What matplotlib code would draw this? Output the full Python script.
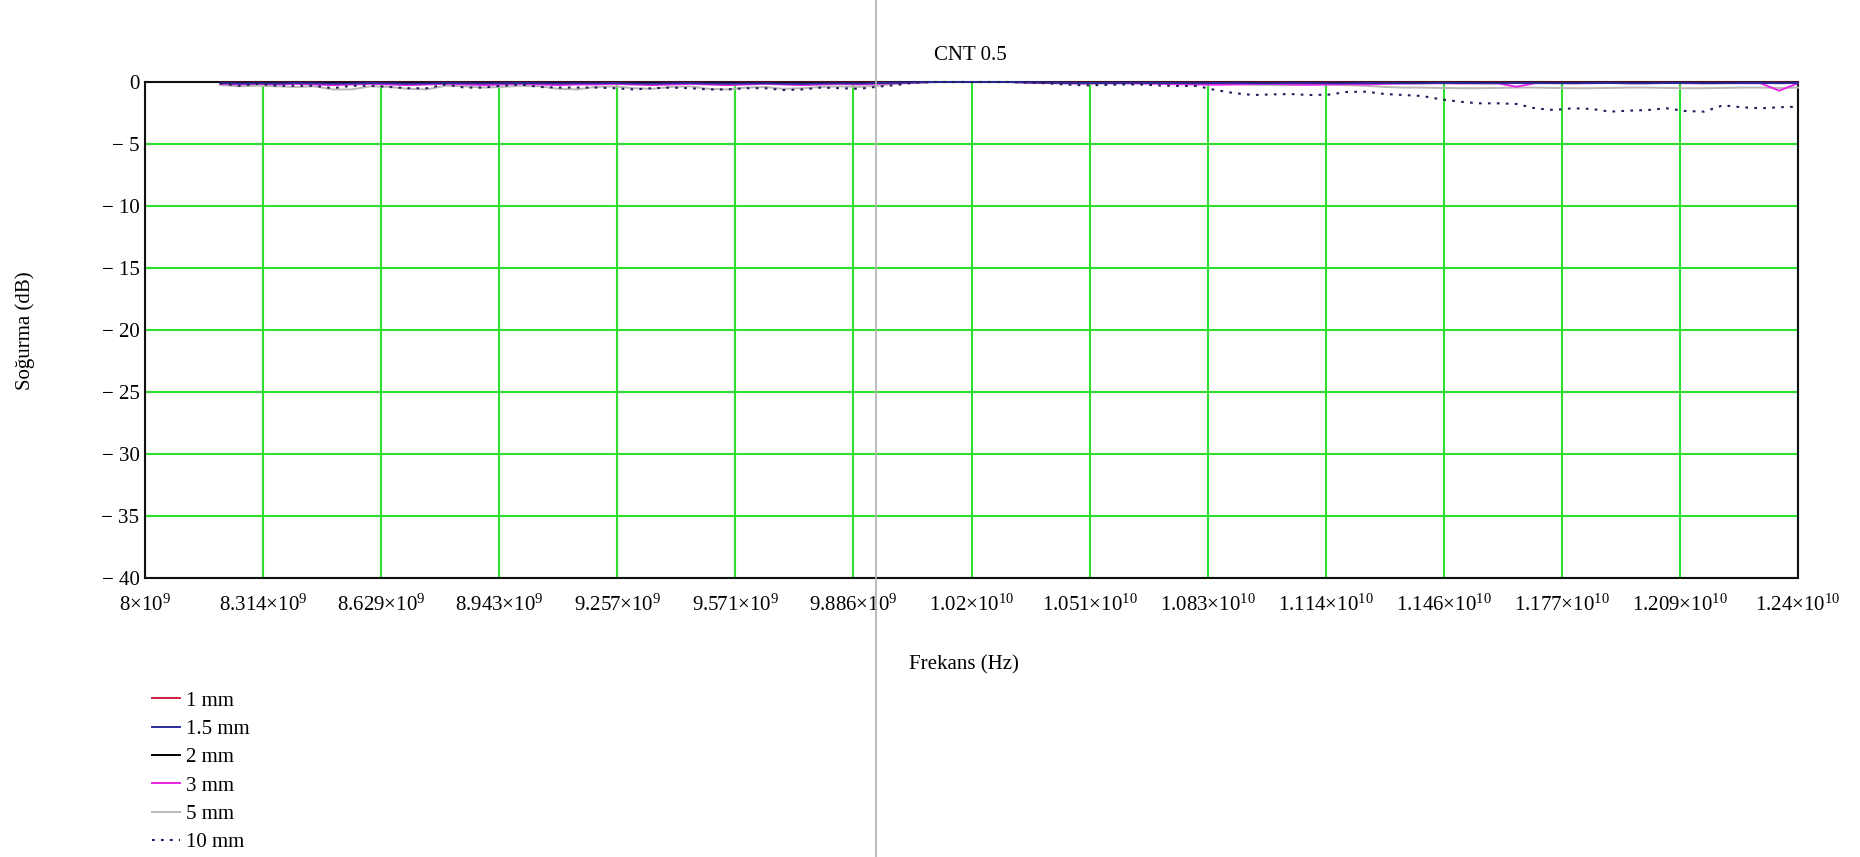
import matplotlib
matplotlib.use('Agg')
import matplotlib.pyplot as plt
import numpy as np
from matplotlib.lines import Line2D

plt.rcParams['font.family'] = ['Liberation Serif', 'DejaVu Serif']
plt.rcParams['mathtext.fontset'] = 'custom'
plt.rcParams['mathtext.rm'] = 'Liberation Serif'
plt.rcParams['mathtext.it'] = 'Liberation Serif:italic'
plt.rcParams['mathtext.bf'] = 'Liberation Serif:bold'

# ---------------- data ----------------
freq_ghz = [8.20, 8.25, 8.30, 8.35, 8.40, 8.45, 8.50, 8.55, 8.60, 8.65,
            8.70, 8.75, 8.80, 8.85, 8.90, 8.95, 9.00, 9.05, 9.10, 9.15,
            9.20, 9.25, 9.30, 9.35, 9.40, 9.45, 9.50, 9.55, 9.60, 9.65,
            9.70, 9.75, 9.80, 9.85, 9.90, 9.95, 10.00, 10.05, 10.10, 10.15,
            10.20, 10.25, 10.30, 10.35, 10.40, 10.45, 10.50, 10.55, 10.60, 10.65,
            10.70, 10.75, 10.80, 10.85, 10.90, 10.95, 11.00, 11.05, 11.10, 11.15,
            11.20, 11.25, 11.30, 11.35, 11.40, 11.45, 11.50, 11.55, 11.60, 11.65,
            11.70, 11.75, 11.80, 11.85, 11.90, 11.95, 12.00, 12.05, 12.10, 12.15,
            12.20, 12.25, 12.30, 12.35, 12.40]

mm1 = [-0.03, -0.05, -0.04, -0.05, -0.03, -0.04, -0.06, -0.05, -0.03, -0.04,
       -0.06, -0.05, -0.03, -0.04, -0.05, -0.04, -0.03, -0.04, -0.05, -0.04,
       -0.04, -0.03, -0.05, -0.06, -0.04, -0.03, -0.05, -0.06, -0.04, -0.03,
       -0.05, -0.06, -0.04, -0.03, -0.04, -0.03, -0.02, -0.01, 0.00, 0.00,
       0.00, 0.00, 0.00, -0.01, -0.02, -0.02, -0.03, -0.03, -0.02, -0.02,
       -0.03, -0.03, -0.03, -0.02, -0.03, -0.03, -0.02, -0.03, -0.03, -0.02,
       -0.03, -0.03, -0.02, -0.03, -0.03, -0.02, -0.03, -0.03, -0.02, -0.03,
       -0.03, -0.02, -0.03, -0.03, -0.02, -0.03, -0.03, -0.02, -0.03, -0.03,
       -0.02, -0.03, -0.03, -0.02, -0.03]

mm15 = [-0.08, -0.12, -0.10, -0.12, -0.08, -0.10, -0.14, -0.12, -0.08, -0.10,
        -0.14, -0.12, -0.08, -0.10, -0.12, -0.10, -0.08, -0.10, -0.12, -0.10,
        -0.10, -0.08, -0.12, -0.14, -0.10, -0.08, -0.12, -0.14, -0.12, -0.10,
        -0.14, -0.15, -0.12, -0.10, -0.12, -0.08, -0.05, -0.02, 0.00, 0.00,
        0.00, 0.00, 0.00, -0.02, -0.04, -0.06, -0.08, -0.08, -0.06, -0.06,
        -0.08, -0.08, -0.10, -0.08, -0.08, -0.10, -0.10, -0.08, -0.08, -0.10,
        -0.10, -0.08, -0.08, -0.10, -0.10, -0.08, -0.08, -0.10, -0.10, -0.08,
        -0.08, -0.10, -0.10, -0.08, -0.08, -0.10, -0.10, -0.08, -0.08, -0.10,
        -0.10, -0.08, -0.08, -0.10, -0.08]

mm2 = [-0.04, -0.06, -0.05, -0.06, -0.04, -0.05, -0.08, -0.06, -0.04, -0.05,
       -0.08, -0.06, -0.04, -0.05, -0.06, -0.05, -0.04, -0.05, -0.06, -0.05,
       -0.05, -0.04, -0.06, -0.08, -0.05, -0.04, -0.06, -0.08, -0.06, -0.05,
       -0.08, -0.09, -0.06, -0.05, -0.06, -0.04, -0.02, -0.01, 0.00, 0.00,
       0.00, 0.00, 0.00, -0.01, -0.02, -0.03, -0.04, -0.04, -0.03, -0.03,
       -0.04, -0.04, -0.05, -0.04, -0.04, -0.05, -0.05, -0.04, -0.04, -0.05,
       -0.05, -0.04, -0.04, -0.05, -0.05, -0.04, -0.04, -0.05, -0.05, -0.04,
       -0.04, -0.05, -0.05, -0.04, -0.04, -0.05, -0.05, -0.04, -0.04, -0.05,
       -0.05, -0.04, -0.04, -0.05, -0.04]

mm3 = [-0.15, -0.20, -0.15, -0.20, -0.15, -0.20, -0.25, -0.20, -0.15, -0.20,
       -0.25, -0.20, -0.15, -0.20, -0.25, -0.20, -0.15, -0.20, -0.25, -0.20,
       -0.20, -0.15, -0.20, -0.25, -0.20, -0.15, -0.20, -0.25, -0.20, -0.15,
       -0.20, -0.25, -0.20, -0.15, -0.20, -0.15, -0.10, -0.05, 0.00, 0.00,
       0.00, 0.00, 0.00, -0.05, -0.08, -0.10, -0.12, -0.10, -0.10, -0.12,
       -0.15, -0.18, -0.20, -0.22, -0.20, -0.18, -0.15, -0.20, -0.22, -0.20,
       -0.18, -0.20, -0.15, -0.12, -0.10, -0.10, -0.12, -0.10, -0.10, -0.38,
       -0.10, -0.08, -0.10, -0.10, -0.08, -0.10, -0.10, -0.08, -0.10, -0.10,
       -0.08, -0.10, -0.10, -0.70, -0.10]

mm5 = [-0.25, -0.35, -0.30, -0.35, -0.40, -0.35, -0.60, -0.60, -0.35, -0.40,
       -0.55, -0.60, -0.30, -0.35, -0.45, -0.40, -0.30, -0.35, -0.55, -0.60,
       -0.40, -0.35, -0.50, -0.55, -0.40, -0.35, -0.55, -0.60, -0.45, -0.40,
       -0.55, -0.50, -0.40, -0.35, -0.40, -0.30, -0.15, -0.05, 0.00, 0.00,
       0.00, 0.00, 0.00, -0.05, -0.08, -0.12, -0.15, -0.12, -0.10, -0.08,
       -0.10, -0.12, -0.10, -0.10, -0.15, -0.20, -0.25, -0.25, -0.22, -0.20,
       -0.25, -0.30, -0.40, -0.45, -0.45, -0.48, -0.50, -0.50, -0.48, -0.45,
       -0.45, -0.48, -0.50, -0.50, -0.48, -0.45, -0.45, -0.48, -0.50, -0.50,
       -0.48, -0.45, -0.45, -0.48, -0.45]

mm10 = [-0.10, -0.30, -0.15, -0.30, -0.30, -0.30, -0.50, -0.30, -0.30, -0.40,
        -0.50, -0.50, -0.20, -0.45, -0.45, -0.30, -0.20, -0.40, -0.45, -0.45,
        -0.45, -0.50, -0.60, -0.50, -0.45, -0.50, -0.60, -0.60, -0.50, -0.50,
        -0.65, -0.60, -0.45, -0.50, -0.55, -0.38, -0.24, -0.05, 0.00, 0.00,
        0.00, 0.00, 0.00, -0.05, -0.10, -0.20, -0.27, -0.24, -0.20, -0.20,
        -0.28, -0.32, -0.32, -0.65, -0.90, -1.05, -1.00, -0.97, -1.05, -1.02,
        -0.80, -0.78, -0.97, -1.05, -1.13, -1.40, -1.59, -1.72, -1.72, -1.77,
        -2.12, -2.26, -2.12, -2.17, -2.39, -2.31, -2.26, -2.12, -2.34, -2.39,
        -1.88, -2.04, -2.12, -2.04, -1.99]

series_labels = ['1 mm', '1.5 mm', '2 mm', '3 mm', '5 mm', '10 mm']
series_values = [mm1, mm15, mm2, mm3, mm5, mm10]

xtick_labels = [r'$\mathregular{8{\times}10^{9}}$',
                r'$\mathregular{8.314{\times}10^{9}}$',
                r'$\mathregular{8.629{\times}10^{9}}$',
                r'$\mathregular{8.943{\times}10^{9}}$',
                r'$\mathregular{9.257{\times}10^{9}}$',
                r'$\mathregular{9.571{\times}10^{9}}$',
                r'$\mathregular{9.886{\times}10^{9}}$',
                r'$\mathregular{1.02{\times}10^{10}}$',
                r'$\mathregular{1.051{\times}10^{10}}$',
                r'$\mathregular{1.083{\times}10^{10}}$',
                r'$\mathregular{1.114{\times}10^{10}}$',
                r'$\mathregular{1.146{\times}10^{10}}$',
                r'$\mathregular{1.177{\times}10^{10}}$',
                r'$\mathregular{1.209{\times}10^{10}}$',
                r'$\mathregular{1.24{\times}10^{10}}$']
ytick_values = [0, -5, -10, -15, -20, -25, -30, -35, -40]
ytick_labels = ['0', '\u2212 5', '\u2212 10', '\u2212 15', '\u2212 20',
                '\u2212 25', '\u2212 30', '\u2212 35', '\u2212 40']

# ---------------- styles ----------------
colors = ['#cc1f3c', '#2b2b9c', '#000000', '#e625e6', '#b8b8b8', '#1e1e5a']
styles = ['-', '-', '-', '-', '-', (0, (1.3, 3))]
widths = [1.4, 1.4, 1.4, 1.4, 1.4, 1.5]
zorders = [3.2, 3.4, 3.3, 3.1, 3.0, 3.5]

W, H = 1860, 857
fig = plt.figure(figsize=(W / 100, H / 100), dpi=100)
L, R, T, B = 145, 1798, 82, 578
ax = fig.add_axes([L / W, 1 - B / H, (R - L) / W, (B - T) / H])

f_hz = np.array(freq_ghz) * 1e9
handles = []
for i in range(6):
    ln, = ax.plot(f_hz, series_values[i], color=colors[i], linestyle=styles[i],
                  lw=widths[i], label=series_labels[i], zorder=zorders[i],
                  clip_on=False)
    handles.append(ln)

ax.set_xlim(8e9, 1.24e10)
ax.set_ylim(-40, 0)
xticks = [8e9 + k * (4.4e9 / 14) for k in range(15)]
ax.set_xticks(xticks)
ax.set_xticklabels(xtick_labels)
ax.set_yticks(ytick_values)
ax.set_yticklabels(ytick_labels)
ax.set_axisbelow(True)
ax.grid(True, color='#2ee02e', lw=1.5)
ax.tick_params(axis='both', length=0, labelsize=15)
ax.tick_params(axis='y', pad=4)
ax.tick_params(axis='x', pad=12)
for s in ax.spines.values():
    s.set_linewidth(1.5)
    s.set_color('#111111')
    s.set_zorder(2.5)

fig.text(970 / W, 1 - 55 / H, 'CNT 0.5', ha='center', va='center', fontsize=15)
fig.text(964 / W, 1 - 665 / H, 'Frekans (Hz)', ha='center', va='center', fontsize=15)
fig.text(25 / W, 1 - 331 / H, 'Soğurma (dB)', ha='center', va='center',
         rotation=90, fontsize=15)

fig.legend(handles, series_labels, loc='upper left',
           bbox_to_anchor=(152 / W, 1 - 691 / H), frameon=False, fontsize=15,
           handlelength=1.35, handletextpad=0.3, labelspacing=0.42,
           borderaxespad=0, borderpad=0)

fig.add_artist(Line2D([876 / W, 876 / W], [0, 1], transform=fig.transFigure,
                      color='#b0b0b0', lw=1.2, zorder=10))

fig.savefig('out.png', dpi=100)
